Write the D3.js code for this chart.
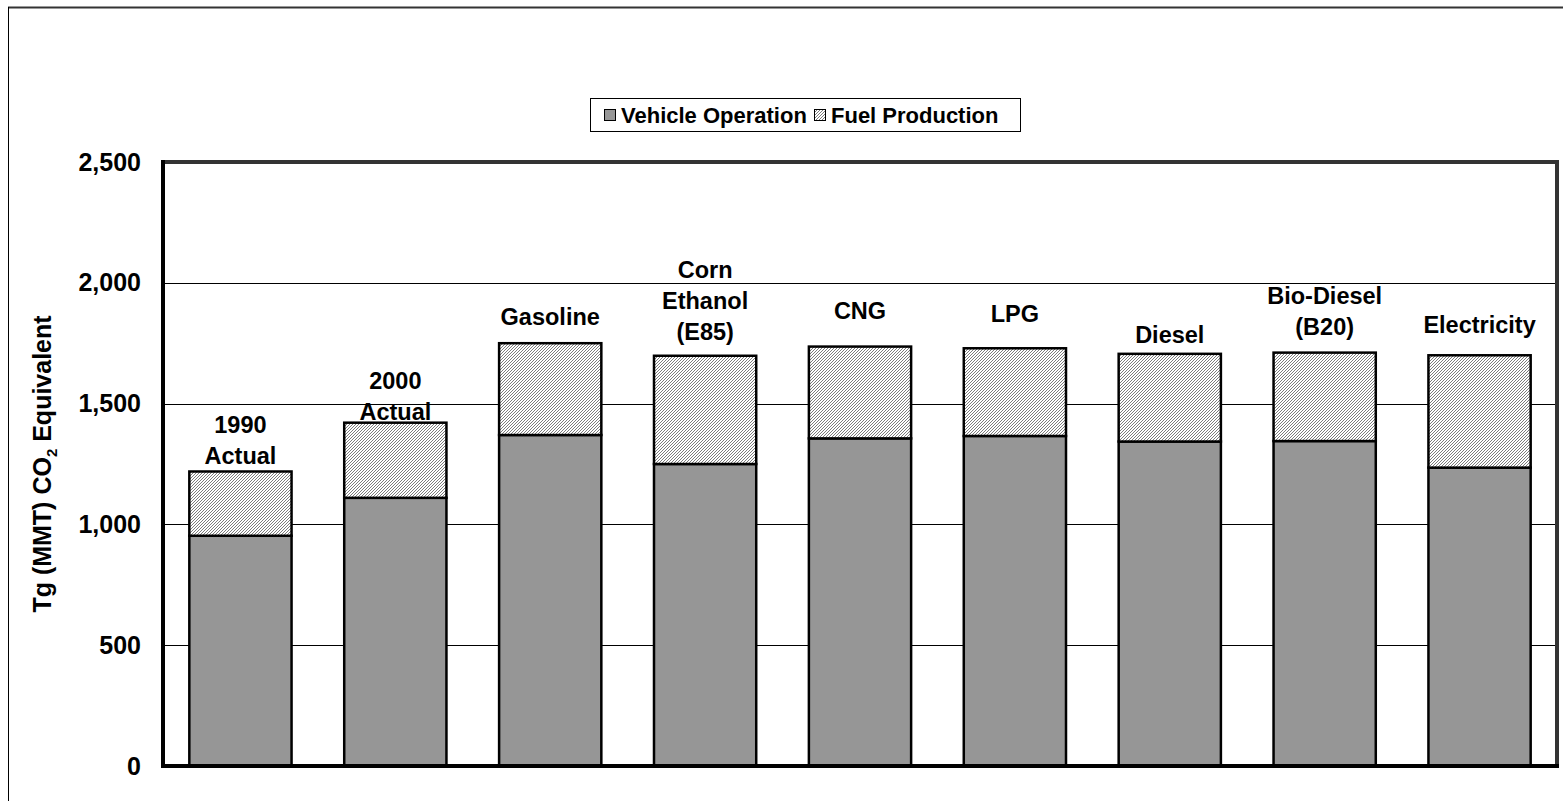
<!DOCTYPE html>
<html>
<head>
<meta charset="utf-8">
<script src="https://cdn.jsdelivr.net/npm/d3@7"></script>
<style>
  html, body { margin: 0; padding: 0; background: #fff; }
  svg { display: block; }
  text { font-family: "Liberation Sans", Arial, sans-serif; font-weight: bold; fill: #000; }
</style>
</head>
<body>
<script>
// ---- data ----
const categories = ["1990 Actual", "2000 Actual", "Gasoline", "Corn Ethanol (E85)", "CNG", "LPG", "Diesel", "Bio-Diesel (B20)", "Electricity"];
const categoryLabelLines = [["1990", "Actual"], ["2000", "Actual"], ["Gasoline"], ["Corn", "Ethanol", "(E85)"], ["CNG"], ["LPG"], ["Diesel"], ["Bio-Diesel", "(B20)"], ["Electricity"]];
const vehicleOperation = [953, 1110, 1370, 1250, 1356, 1366, 1343, 1345, 1235];
const fuelProduction = [266, 311, 380, 448, 380, 363, 363, 366, 465];
const seriesNames = ["Vehicle Operation", "Fuel Production"];
const yTicks = [0, 500, 1000, 1500, 2000, 2500];

// ---- layout (not data) ----
const W = 1563, H = 801;
const plot = { left: 163, right: 1557, top: 162, bottom: 766 };
const labelGap = [7, 3, 18, 16, 28, 26, 11, 18, 22];
const lineH = 31;

const svg = d3.select("body").append("svg").attr("width", W).attr("height", H);

// hatch pattern
const defs = svg.append("defs");
const pat = defs.append("pattern").attr("id", "hatch").attr("patternUnits", "userSpaceOnUse")
  .attr("width", 3).attr("height", 3);
pat.append("rect").attr("width", 3).attr("height", 3).attr("fill", "#fff");
pat.append("path").attr("d", "M-1,1 L1,-1 M0,3 L3,0 M2,4 L4,2")
  .attr("stroke", "#5a5a5a").attr("stroke-width", 0.8);

// outer frame
svg.append("line").attr("x1", 8).attr("x2", W).attr("y1", 7.5).attr("y2", 7.5).attr("stroke", "#333").attr("stroke-width", 2);
svg.append("line").attr("x1", 8.5).attr("x2", 8.5).attr("y1", 7).attr("y2", H).attr("stroke", "#000").attr("stroke-width", 1);

const x = d3.scaleBand().domain(categories).range([plot.left, plot.right]).paddingInner(0.34).paddingOuter(0.17);
const y = d3.scaleLinear().domain([0, 2500]).range([plot.bottom, plot.top]);

// gridlines
svg.append("g").selectAll("line").data(yTicks.filter(t => t > 0 && t < 2500)).join("line")
  .attr("x1", plot.left).attr("x2", plot.right)
  .attr("y1", d => Math.round(y(d)) + 0.5).attr("y2", d => Math.round(y(d)) + 0.5)
  .attr("stroke", "#000").attr("stroke-width", 1);

// stacked data
const rows = categories.map((c, i) => ({ cat: c, vo: vehicleOperation[i], fp: fuelProduction[i] }));
const stack = d3.stack().keys(["vo", "fp"])(rows);
const fills = ["#969696", "url(#hatch)"];

svg.append("g").selectAll("g").data(stack).join("g")
  .attr("fill", (d, i) => fills[i])
  .selectAll("rect").data(d => d).join("rect")
  .attr("x", d => x(d.data.cat))
  .attr("width", x.bandwidth())
  .attr("y", d => y(d[1]))
  .attr("height", d => y(d[0]) - y(d[1]))
  .attr("stroke", "#000").attr("stroke-width", 2.5);

// plot frame
svg.append("line").attr("x1", plot.left).attr("x2", plot.right).attr("y1", plot.top).attr("y2", plot.top).attr("stroke", "#333").attr("stroke-width", 4);
svg.append("line").attr("x1", plot.right).attr("x2", plot.right).attr("y1", plot.top - 2).attr("y2", plot.bottom).attr("stroke", "#333").attr("stroke-width", 4);
svg.append("line").attr("x1", plot.left).attr("x2", plot.right + 2).attr("y1", plot.bottom).attr("y2", plot.bottom).attr("stroke", "#000").attr("stroke-width", 4);
svg.append("line").attr("x1", plot.left).attr("x2", plot.left).attr("y1", plot.top - 2).attr("y2", plot.bottom + 2).attr("stroke", "#000").attr("stroke-width", 4);

// y axis tick labels
const yAxis = d3.axisLeft(y).tickValues(yTicks).tickFormat(d3.format(",")).tickSize(0).tickPadding(22);
const ya = svg.append("g").attr("transform", `translate(${plot.left},0)`).call(yAxis);
ya.select(".domain").remove();
ya.selectAll("text").attr("font-size", 25).attr("font-family", "Liberation Sans, Arial, sans-serif").attr("font-weight", "bold").attr("fill", "#000");

// y axis title
const yt = svg.append("text").attr("transform", `translate(51,${(plot.top + plot.bottom) / 2}) rotate(-90)`)
  .attr("text-anchor", "middle").attr("font-size", 25);
yt.append("tspan").text("Tg (MMT) CO");
yt.append("tspan").text("2").attr("font-size", 15).attr("dy", 6);
yt.append("tspan").text(" Equivalent").attr("dy", -6);

// category labels above bars
categories.forEach((c, i) => {
  const lines = categoryLabelLines[i];
  const top = y(vehicleOperation[i] + fuelProduction[i]);
  const lastBase = top - labelGap[i];
  const t = svg.append("text").attr("text-anchor", "middle").attr("font-size", 23.5)
    .attr("x", x(c) + x.bandwidth() / 2);
  lines.forEach((ln, j) => {
    t.append("tspan").attr("x", x(c) + x.bandwidth() / 2)
      .attr("y", lastBase - (lines.length - 1 - j) * lineH).text(ln);
  });
});

// legend
const lg = svg.append("g");
lg.append("rect").attr("x", 590.5).attr("y", 98.5).attr("width", 430).attr("height", 33)
  .attr("fill", "#fff").attr("stroke", "#000").attr("stroke-width", 1);
const legendItems = [
  { name: seriesNames[0], fill: fills[0], sx: 604, tx: 621 },
  { name: seriesNames[1], fill: fills[1], sx: 814, tx: 831 }
];
legendItems.forEach(it => {
  lg.append("rect").attr("x", it.sx + 0.5).attr("y", 109.5).attr("width", 11).attr("height", 11)
    .attr("fill", it.fill).attr("stroke", "#000").attr("stroke-width", 1);
  lg.append("text").attr("x", it.tx).attr("y", 122.5).attr("font-size", 22).text(it.name);
});
</script>
</body>
</html>
